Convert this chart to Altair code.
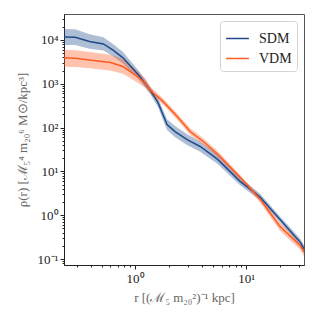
import altair as alt
import pandas as pd

# ---- data ----
sdm_r   = [0.23, 0.29, 0.39, 0.52, 0.63, 0.78, 0.94, 1.11, 1.36, 1.61, 1.75, 1.94, 2.29, 2.94, 3.85, 5.5, 8.8, 13.3, 20.0, 30.6, 33.0]
sdm_rho = [11700, 11500, 9200, 8100, 5900, 3900, 2300, 1440, 730, 370, 220, 117, 81, 53, 37, 19, 5.9, 2.6, 0.81, 0.24, 0.17]
sdm_lo  = [7700, 7600, 6300, 5700, 4300, 2900, 1800, 1150, 600, 290, 170, 88, 60, 40, 28, 15, 4.8, 2.2, 0.70, 0.20, 0.14]
sdm_hi  = [17800, 17500, 13500, 11500, 8200, 5300, 3000, 1800, 880, 460, 285, 155, 108, 70, 48, 25, 7.2, 3.1, 0.95, 0.29, 0.21]

vdm_r   = [0.23, 0.29, 0.39, 0.60, 0.78, 1.0, 1.23, 1.36, 1.79, 2.39, 3.13, 4.1, 5.6, 8.8, 13.3, 20.0, 30.6, 33.0]
vdm_rho = [3900, 3800, 3500, 3050, 2470, 1600, 1050, 730, 390, 178, 81, 48, 24, 7.3, 2.3, 0.56, 0.20, 0.145]
vdm_lo  = [2450, 2400, 2250, 2000, 1700, 1150, 820, 600, 330, 150, 68, 41, 20.5, 6.4, 1.95, 0.45, 0.16, 0.115]
vdm_hi  = [5900, 5800, 5300, 4600, 3600, 2200, 1350, 880, 460, 210, 96, 57, 28, 8.3, 2.7, 0.68, 0.25, 0.18]

series_names = ["SDM", "VDM"]
series_colors = ["#1f4a8a", "#ff5a1f"]

x_ticks = [0.3, 0.4, 0.5, 0.6, 0.7, 0.8, 0.9, 1, 2, 3, 4, 5, 6, 7, 8, 9, 10, 20, 30]
y_ticks = [0.08, 0.09, 0.1, 0.2, 0.3, 0.4, 0.5, 0.6, 0.7, 0.8, 0.9,
           1, 2, 3, 4, 5, 6, 7, 8, 9, 10, 20, 30, 40, 50, 60, 70, 80, 90,
           100, 200, 300, 400, 500, 600, 700, 800, 900,
           1000, 2000, 3000, 4000, 5000, 6000, 7000, 8000, 9000, 10000, 20000, 30000]

rows = []
for r, v, lo, hi in zip(sdm_r, sdm_rho, sdm_lo, sdm_hi):
    rows.append({"series": "SDM", "r": r, "rho": v, "lo": lo, "hi": hi})
for r, v, lo, hi in zip(vdm_r, vdm_rho, vdm_lo, vdm_hi):
    rows.append({"series": "VDM", "r": r, "rho": v, "lo": lo, "hi": hi})
df = pd.DataFrame(rows)

FONT = "Liberation Serif"

major_test = "abs(log(datum.value)/LN10 - round(log(datum.value)/LN10)) < 1e-6"

x_axis = alt.Axis(
    values=x_ticks,
    labelExpr="datum.value == 1 ? '10⁰' : (datum.value == 10 ? '10¹' : '')",
    tickSize={"condition": {"test": major_test, "value": 4}, "value": 2},
    title="r [(ℳ₅ m₂₀²)⁻¹ kpc]",
    titleColor="#666666",
    titleFont=FONT, titleFontSize=13, titleFontWeight="normal",
    labelFont=FONT, labelFontSize=13, labelColor="#222222",
    labelPadding=3, titlePadding=6,
    domainColor="#222222", tickColor="#222222", grid=False,
)
y_axis = alt.Axis(
    values=y_ticks,
    labelExpr=("datum.value == 10000 ? '10⁴' : datum.value == 1000 ? '10³' : "
               "datum.value == 100 ? '10²' : datum.value == 10 ? '10¹' : "
               "datum.value == 1 ? '10⁰' : datum.value == 0.1 ? '10⁻¹' : ''"),
    tickSize={"condition": {"test": major_test, "value": 4}, "value": 2},
    title="ρ(r) [ℳ₅⁴ m₂₀⁶ M⊙/kpc³]",
    titleColor="#666666",
    titleFont=FONT, titleFontSize=13, titleFontWeight="normal",
    labelFont=FONT, labelFontSize=13, labelColor="#222222",
    labelPadding=2, titlePadding=8,
    domainColor="#222222", tickColor="#222222", grid=False,
)

xs = alt.Scale(type="log", domain=[0.23, 33], nice=False)
ys = alt.Scale(type="log", domain=[0.073, 39000], nice=False)
cs = alt.Scale(domain=series_names, range=series_colors)

legend = alt.Legend(title=None, orient="top-right", offset=7)

base = alt.Chart(df)

band = base.mark_area(opacity=0.36, clip=True).encode(
    x=alt.X("r:Q", scale=xs, axis=x_axis),
    y=alt.Y("lo:Q", scale=ys, axis=y_axis),
    y2="hi:Q",
    color=alt.Color("series:N", scale=cs, legend=legend),
    detail="series:N",
)

line = base.mark_line(strokeWidth=1.5, clip=True).encode(
    x=alt.X("r:Q", scale=xs),
    y=alt.Y("rho:Q", scale=ys),
    color=alt.Color("series:N", scale=cs, legend=legend),
)

chart = alt.layer(band, line).properties(
    width=240, height=251,
    autosize=alt.AutoSizeParams(type="none"),
    padding={"left": 56, "top": 6, "right": 6, "bottom": 40},
).configure_view(
    stroke="#555555", strokeWidth=1
).configure_legend(
    fillColor="white", strokeColor="#d4d4d4", cornerRadius=3,
    padding=5, labelFont=FONT, labelFontSize=14, labelColor="#222222",
    symbolType="stroke", symbolStrokeWidth=1.5, symbolSize=520,
    symbolOpacity=1, rowPadding=-6, labelOffset=9,
)

chart.save("out.html", embed_options={"renderer": "svg", "actions": False})
